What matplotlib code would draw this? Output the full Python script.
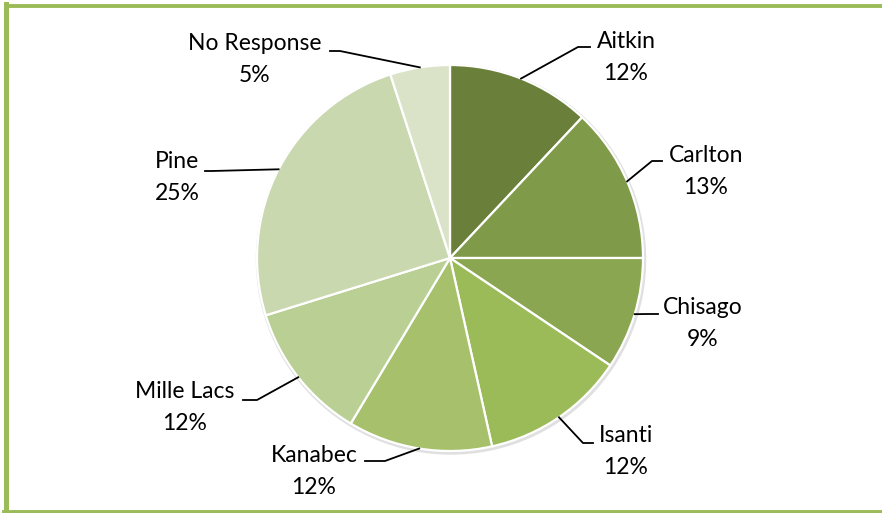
import numpy as np
import matplotlib
matplotlib.use('Agg')
import matplotlib.pyplot as plt
from matplotlib.lines import Line2D

# Daten (Anteile in %)
counties = ['Aitkin', 'Carlton', 'Chisago', 'Isanti', 'Kanabec', 'Mille Lacs', 'Pine', 'No Response']
shares = [12.0, 13.0, 9.4, 12.1, 12.1, 11.6, 24.8, 5.0]
colors = ['#6a803a', '#7f9a48', '#8aa650', '#9bbb59', '#a6c06c', '#b9cf93', '#cad8b0', '#dae3c8']

W, H = 882, 513
plt.rcParams['font.family'] = ['Lato', 'DejaVu Sans']

fig = plt.figure(figsize=(W / 100, H / 100), dpi=100)
ax = fig.add_axes([0, 0, 1, 1])

# Pie in Pixelkoordinaten (y nach oben)
cx, cy, r = 450, H - 258, 193
# leichter Schatten
ax.add_patch(plt.Circle((cx + 1, cy - 1.5), r + 1.5, color='#e0e0e0', zorder=0))
ax.pie(shares, colors=colors, startangle=90, counterclock=False, center=(cx, cy), radius=r,
       wedgeprops=dict(edgecolor='white', linewidth=1.6), frame=True)

# Layout der Beschriftungen: (Knickpunkt x, y), Ende x, Textmitte x, y Namenszeile
layout = {
    'Aitkin':      ((578, 47), 590, 626, 42),
    'Carlton':     ((652, 161), 662, 706, 155),
    'Chisago':     ((648, 314), 658, 703, 307),
    'Isanti':      ((583, 443), 593, 626, 436),
    'Kanabec':     ((385, 461), 365, 314, 455),
    'Mille Lacs':  ((257, 400), 243, 185, 392),
    'Pine':        ((212, 171), 205, 177, 162),
    'No Response': ((340, 51), 330, 255, 44),
}

total = sum(shares)
cum = 0.0
for name, val in zip(counties, shares):
    mid = (cum + val / 2) / total * 360.0
    cum += val
    ang = np.deg2rad(90 - mid)
    sx, sy = cx + r * np.cos(ang), cy + r * np.sin(ang)
    (kx, ky), ex, tx, ty = layout[name]
    ax.add_line(Line2D([sx, kx, ex], [sy, H - ky, H - ky], color='black', lw=1.3, zorder=5))
    pct = f"{round(val / total * 100):d}%"
    ax.text(tx, H - ty, name, ha='center', va='center', fontsize=16.5, color='black')
    ax.text(tx, H - ty - 32, pct, ha='center', va='center', fontsize=16.5, color='black')

ax.set_xlim(0, W)
ax.set_ylim(0, H)
ax.set_aspect('auto')
ax.axis('off')

# gruener Rahmen (rechts offen)
frame_c = '#9bbb59'
fig.add_artist(Line2D([6 / W, 1], [1 - 5.5 / H, 1 - 5.5 / H], color=frame_c, lw=2.8, transform=fig.transFigure))
fig.add_artist(Line2D([6 / W, 6 / W], [1 - 4 / H, 1.5 / H], color=frame_c, lw=3.6, transform=fig.transFigure))
fig.add_artist(Line2D([4 / W, 1], [1.5 / H, 1.5 / H], color=frame_c, lw=2.8, transform=fig.transFigure))

fig.savefig('out.png', dpi=100, facecolor='white')
